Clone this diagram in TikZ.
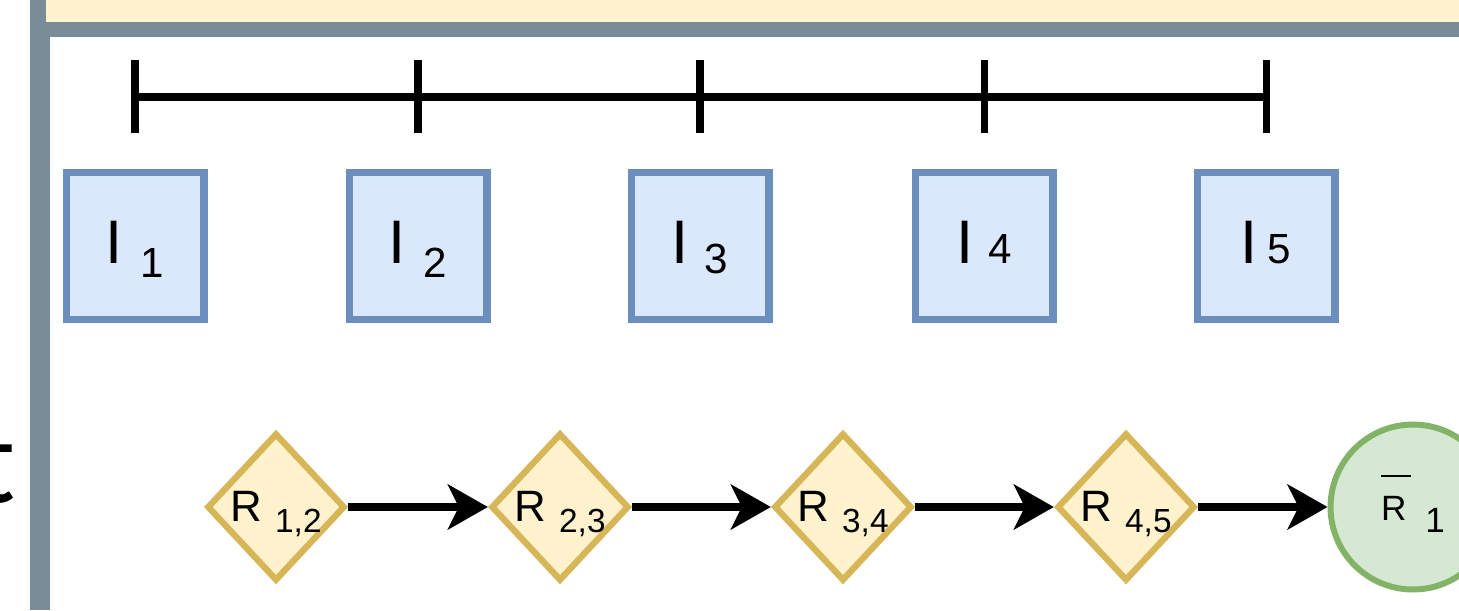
\documentclass[tikz,border=0pt]{standalone}
\usepackage{fontspec}
\setmainfont{Liberation Sans}
\newfontfamily\cutfont{Carlito}
\usetikzlibrary{shapes.geometric,arrows.meta}

\definecolor{framegray}{HTML}{788D98}
\definecolor{headfill}{HTML}{FFF2CC}
\definecolor{boxfill}{HTML}{DAE8FC}
\definecolor{boxline}{HTML}{6C8EBF}
\definecolor{relfill}{HTML}{FFF2CC}
\definecolor{relline}{HTML}{D6B656}
\definecolor{sumfill}{HTML}{D5E8D4}
\definecolor{sumline}{HTML}{82B366}

% label macros: #1 index, #2 drop, #3 gap
\newcommand{\ilabel}[3]{\fontsize{35}{35}\selectfont I\hspace{#3}\raisebox{#2}{\fontsize{24}{24}\selectfont #1}}
\newcommand{\rlabel}[1]{\fontsize{25}{25}\selectfont R\hspace{0.26cm}\raisebox{-0.22cm}{\fontsize{19}{19}\selectfont #1}}
\newcommand{\rbarlabel}[1]{\fontsize{20}{20}\selectfont\makebox[0pt][l]{\raisebox{0.86cm}{\rule{0.6cm}{0.05cm}}}R\hspace{0.38cm}\raisebox{-0.24cm}{\fontsize{20}{20}\selectfont #1}}

\tikzset{
  interval/.style={draw=boxline, fill=boxfill, line width=4pt, minimum width=2.76cm, minimum height=2.94cm, inner sep=0pt, text height=0.68cm, text depth=0pt},
  relation/.style={diamond, draw=relline, fill=relfill, line width=3.6pt, minimum width=2.76cm, minimum height=2.96cm, inner sep=0pt, text height=0.56cm, text depth=0pt},
  result/.style={circle, draw=sumline, fill=sumfill, line width=3.4pt, minimum size=3.3cm, inner sep=0pt, text height=0.52cm, text depth=0pt},
  flow/.style={line width=4.4pt, -{Stealth[length=0.8cm, width=0.9cm, inset=0.22cm]}},
  axis/.style={line width=4pt}
}

\begin{document}
\begin{tikzpicture}[x=0.02cm, y=-0.02cm]
  \useasboundingbox (0,0) rectangle (1459,610);
  % frame
  \fill[framegray] (30,0) rectangle (1459,610);
  \fill[headfill] (46,0) rectangle (1459,22);
  \fill[white] (50,37) rectangle (1459,610);
  % cut-off text
  \node[anchor=base east, inner sep=0pt] (cut) at (16,502) {\cutfont\fontsize{70}{70}\selectfont t};
  % time axis
  \foreach \i/\x in {1/135,2/418,3/700,4/984,5/1266}
    \coordinate (t\i) at (\x,97);
  \draw[axis] (t1) -- (t5);
  \foreach \i in {1,...,5}
    \draw[axis] ([yshift=0.74cm]t\i) -- ([yshift=-0.72cm]t\i);
  % intervals
  \foreach \i/\x/\d/\g in {1/135/-0.28cm/0.36cm,2/418/-0.28cm/0.36cm,3/700/-0.2cm/0.32cm,4/984/0cm/0.3cm,5/1266/0cm/0.2cm}
    \node[interval] (i\i) at (\x,246) {\ilabel{\i}{\d}{\g}};
  % relations
  \foreach \i/\j/\x in {1/2/276,2/3/560,3/4/843,4/5/1126}
    \node[relation] (r\i) at (\x,507) {\rlabel{\i,\j}};
  \node[result] (rbar) at (1413,507) {\rbarlabel{1}};
  % arrows
  \foreach \i/\j in {1/2,2/3,3/4}
    \draw[flow] (r\i.east) -- (r\j.west);
  \draw[flow] (r4.east) -- (rbar.west);
\end{tikzpicture}
\end{document}
